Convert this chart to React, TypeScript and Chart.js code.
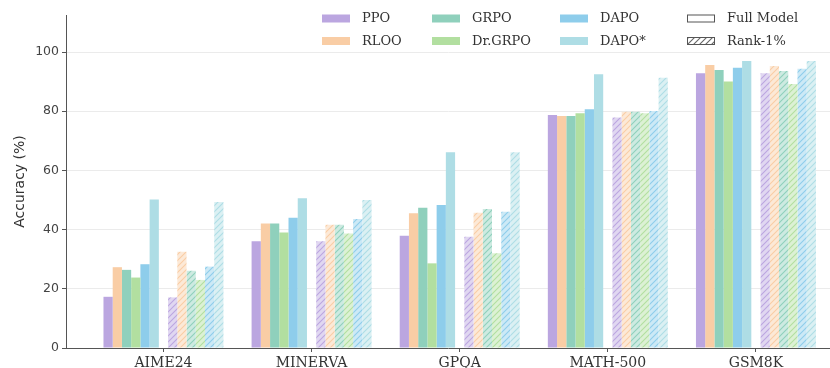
import React, { useEffect, useRef } from 'react';
import { Chart, registerables } from 'chart.js';

Chart.register(...registerables);

// ---- data ----
const categories = ['AIME24', 'MINERVA', 'GPQA', 'MATH-500', 'GSM8K'];
const methods = ['PPO', 'RLOO', 'GRPO', 'Dr.GRPO', 'DAPO', 'DAPO*'];
const variants = ['Full Model', 'Rank-1%'];
const colors = ['#BBA6E0', '#F9CDA5', '#8FD0BC', '#B2DFA0', '#8ECDEB', '#AEDDE5'];

// Full model accuracy (%)
const fullPPO = [17.3, 36.1, 37.9, 78.7, 92.8];
const fullRLOO = [27.3, 42.1, 45.5, 78.4, 95.6];
const fullGRPO = [26.4, 42.1, 47.4, 78.4, 93.9];
const fullDrGRPO = [23.8, 39.0, 28.6, 79.3, 90.0];
const fullDAPO = [28.3, 44.0, 48.3, 80.7, 94.7];
const fullDAPOStar = [50.2, 50.6, 66.1, 92.5, 97.0];

// Rank-1% accuracy (%)
const rankPPO = [17.1, 36.1, 37.6, 77.9, 92.8];
const rankRLOO = [32.5, 41.6, 45.7, 79.8, 95.3];
const rankGRPO = [26.1, 41.6, 47.0, 79.8, 93.6];
const rankDrGRPO = [23.0, 38.7, 32.0, 79.3, 89.2];
const rankDAPO = [27.5, 43.6, 46.0, 80.1, 94.3];
const rankDAPOStar = [49.3, 50.0, 66.1, 91.3, 97.0];

const yTicks = [0, 20, 40, 60, 80, 100];

const fullSeries = [fullPPO, fullRLOO, fullGRPO, fullDrGRPO, fullDAPO, fullDAPOStar];
const rankSeries = [rankPPO, rankRLOO, rankGRPO, rankDrGRPO, rankDAPO, rankDAPOStar];

function lighten(hex: string, amt: number) {
  const n = parseInt(hex.slice(1), 16);
  const r = (n >> 16) & 255, g = (n >> 8) & 255, b = n & 255;
  const f = (c: number) => Math.round(c + (255 - c) * amt);
  return `rgb(${f(r)},${f(g)},${f(b)})`;
}

function makeHatch(ctx: CanvasRenderingContext2D, stroke: string, bg: string) {
  const s = 6;
  const c = document.createElement('canvas');
  c.width = s; c.height = s;
  const g = c.getContext('2d')!;
  g.fillStyle = bg;
  g.fillRect(0, 0, s, s);
  g.strokeStyle = stroke;
  g.lineWidth = 1.1;
  g.beginPath();
  g.moveTo(0, s); g.lineTo(s, 0);
  g.moveTo(-1, 1); g.lineTo(1, -1);
  g.moveTo(s - 1, s + 1); g.lineTo(s + 1, s - 1);
  g.stroke();
  return ctx.createPattern(c, 'repeat')!;
}

const toPoints = (arr: (number | null)[]) => arr.map((y, i) => ({ x: i, y }));

export default function App() {
  const ref = useRef<HTMLCanvasElement>(null);

  useEffect(() => {
    const canvas = ref.current!;
    const ctx = canvas.getContext('2d')!;

    const hatches = colors.map((c) => makeHatch(ctx, c, lighten(c, 0.55)));
    const legendHatch = makeHatch(ctx, '#666', '#ffffff');

    const datasets: any[] = [];
    methods.forEach((m, i) => {
      datasets.push({
        label: `${m} (${variants[0]})`,
        data: toPoints(fullSeries[i]),
        backgroundColor: colors[i],
        borderWidth: 0,
      });
    });
    datasets.push({
      label: '',
      data: toPoints(categories.map(() => null)),
      backgroundColor: 'rgba(0,0,0,0)',
      borderWidth: 0,
    });
    methods.forEach((m, i) => {
      datasets.push({
        label: `${m} (${variants[1]})`,
        data: toPoints(rankSeries[i]),
        backgroundColor: hatches[i],
        borderWidth: 0,
      });
    });

    const legendPlugin = {
      id: 'customLegend',
      afterDraw(chart: any) {
        const c: CanvasRenderingContext2D = chart.ctx;
        const right = chart.chartArea.right;
        const colOffsets = [508, 398, 270, 143];
        const rowY = [18.5, 41];
        const sw = 28, sh = 8, textGap = 40;
        c.save();
        c.font = '13px "DejaVu Serif"';
        c.textBaseline = 'middle';
        c.textAlign = 'left';
        for (let col = 0; col < 4; col++) {
          const x = right - colOffsets[col];
          for (let row = 0; row < 2; row++) {
            const y = rowY[row];
            let label: string;
            if (col < 3) {
              const idx = col * 2 + row;
              label = methods[idx];
              c.fillStyle = colors[idx];
              c.fillRect(x, y - sh / 2, sw, sh);
            } else {
              label = variants[row];
              c.fillStyle = row === 0 ? '#ffffff' : legendHatch;
              c.fillRect(x, y - sh / 2, sw, sh);
              c.strokeStyle = '#555';
              c.lineWidth = 1;
              c.strokeRect(x + 0.5, y - sh / 2 + 0.5, sw - 1, sh - 1);
            }
            c.fillStyle = '#333';
            c.fillText(label, x + textGap, y + 0.5);
          }
        }
        c.restore();
      },
    };

    const chart = new Chart(canvas, {
      type: 'bar',
      data: { datasets },
      options: {
        animation: false,
        responsive: false,
        layout: { padding: { top: 15, left: 0, right: 0, bottom: 0 } },
        datasets: {
          bar: { categoryPercentage: 0.81, barPercentage: 1.0 },
        },
        plugins: {
          legend: { display: false },
          tooltip: { enabled: false },
        },
        scales: {
          x: {
            type: 'linear',
            offset: false,
            min: -0.658,
            max: 4.5,
            afterBuildTicks: (axis: any) => {
              axis.ticks = categories.map((_, i) => ({ value: i }));
            },
            afterFit: (s: any) => { s.height = 20; },
            ticks: {
              autoSkip: false,
              maxRotation: 0,
              padding: 3,
              color: '#333',
              font: { family: 'DejaVu Serif', size: 14 },
              callback: (v: any) => categories[v as number] ?? '',
            },
            grid: {
              display: true,
              offset: false,
              drawOnChartArea: false,
              drawTicks: true,
              tickLength: 4,
              tickColor: '#555',
            },
            border: { display: true, color: '#555', width: 1 },
          },
          y: {
            min: 0,
            max: 112.5,
            afterBuildTicks: (axis: any) => {
              axis.ticks = yTicks.map((v) => ({ value: v }));
            },
            afterFit: (s: any) => { s.width = 66; },
            ticks: {
              padding: 3,
              color: '#444',
              font: { family: 'DejaVu Sans', size: 12.5 },
            },
            grid: {
              color: (c: any) => (c.tick && c.tick.value === 0 ? 'rgba(0,0,0,0)' : '#ebebeb'),
              lineWidth: 1,
              drawTicks: true,
              tickLength: 4,
              tickColor: '#555',
            },
            border: { display: true, color: '#555', width: 1 },
            title: {
              display: true,
              text: 'Accuracy (%)',
              color: '#333',
              font: { family: 'DejaVu Sans', size: 14 },
              padding: { top: 12, bottom: 0 },
            },
          },
        },
      },
      plugins: [legendPlugin],
    } as any);

    return () => chart.destroy();
  }, []);

  return (
    <div style={{ position: 'absolute', left: 0, top: 0, width: 830, height: 368, background: '#fff' }}>
      <canvas ref={ref} width={830} height={368} style={{ display: 'block' }} />
    </div>
  );
}
